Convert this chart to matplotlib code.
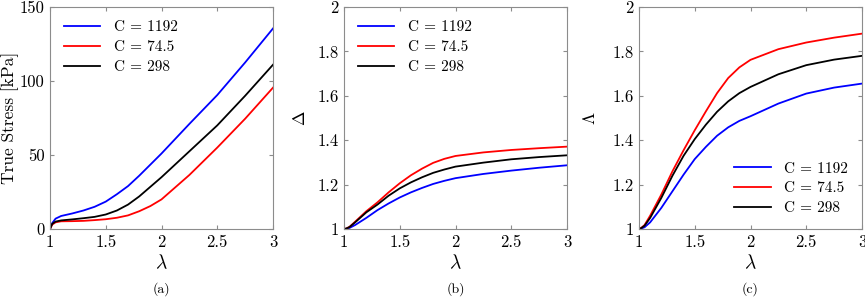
import matplotlib
matplotlib.use("Agg")
import matplotlib.pyplot as plt

plt.rcParams.update({
    "font.family": "serif",
    "font.serif": ["cmr10"],
    "mathtext.fontset": "cm",
    "axes.formatter.use_mathtext": True,
    "font.size": 11,
})

# stretch values
LAM = [1.0, 1.02, 1.05, 1.1, 1.2, 1.3, 1.4, 1.5, 1.6, 1.7, 1.8, 1.9,
       2.0, 2.25, 2.5, 2.75, 3.0]

LABELS = ["C = 1192", "C = 74.5", "C = 298"]
COLORS = ["#0000ff", "#ff0000", "#000000"]

# (a) true stress [kPa]
STRESS_1192 = [0, 4.0, 7.0, 8.8, 10.5, 12.5, 15.0, 18.5, 23.5, 29.0, 36.0,
               43.5, 51.0, 71.0, 90.5, 112.5, 135.5]
STRESS_745 = [0, 3.0, 4.5, 5.2, 5.3, 5.5, 6.0, 6.6, 7.6, 9.2, 12.0,
              15.5, 20.0, 36.5, 55.0, 74.5, 95.5]
STRESS_298 = [0, 3.5, 5.0, 5.8, 6.5, 7.3, 8.2, 9.8, 12.5, 16.5, 22.0,
              28.5, 35.0, 52.5, 70.0, 90.0, 111.0]

# (b) Delta
DELTA_1192 = [1.0, 1.001, 1.005, 1.018, 1.05, 1.085, 1.115, 1.142, 1.165,
              1.185, 1.203, 1.217, 1.229, 1.248, 1.263, 1.276, 1.287]
DELTA_745 = [1.0, 1.002, 1.01, 1.033, 1.08, 1.12, 1.165, 1.206, 1.242,
             1.272, 1.298, 1.316, 1.329, 1.345, 1.356, 1.364, 1.371]
DELTA_298 = [1.0, 1.002, 1.009, 1.03, 1.075, 1.11, 1.15, 1.183, 1.21,
             1.233, 1.253, 1.268, 1.281, 1.299, 1.314, 1.324, 1.332]

# (c) Lambda
LAMBDA_1192 = [1.0, 1.002, 1.008, 1.03, 1.095, 1.17, 1.245, 1.315, 1.37,
               1.42, 1.458, 1.487, 1.508, 1.565, 1.61, 1.637, 1.655]
LAMBDA_745 = [1.0, 1.005, 1.018, 1.06, 1.155, 1.26, 1.355, 1.445, 1.53,
              1.612, 1.68, 1.728, 1.762, 1.81, 1.84, 1.862, 1.88]
LAMBDA_298 = [1.0, 1.004, 1.015, 1.05, 1.14, 1.24, 1.33, 1.405, 1.47,
              1.528, 1.575, 1.612, 1.64, 1.697, 1.738, 1.763, 1.78]

PANELS = [
    ([STRESS_1192, STRESS_745, STRESS_298], "True Stress [kPa]", (0, 150),
     [0, 50, 100, 150], "upper left", "(a)", -0.14),
    ([DELTA_1192, DELTA_745, DELTA_298], r"$\Delta$", (1, 2),
     [1, 1.2, 1.4, 1.6, 1.8, 2], "upper left", "(b)", -0.16),
    ([LAMBDA_1192, LAMBDA_745, LAMBDA_298], r"$\Lambda$", (1, 2),
     [1, 1.2, 1.4, 1.6, 1.8, 2], "lower right", "(c)", -0.185),
]

W, H = 865, 299
EDGE = "#8c8c8c"
fig = plt.figure(figsize=(W / 100, H / 100), dpi=100)
lefts = [50, 344, 639]
for left, (series, ylab, ylim, yt, loc, cap, ylx) in zip(lefts, PANELS):
    ax = fig.add_axes([left / W, 1 - 229 / H, 223 / W, 222 / H])
    for ys, c, lab in zip(series, COLORS, LABELS):
        ax.plot(LAM, ys, color=c, lw=1.3, label=lab)
    ax.set_xlim(1, 3)
    ax.set_ylim(*ylim)
    ax.set_xticks([1, 1.5, 2, 2.5, 3])
    ax.set_xticklabels(["1", "1.5", "2", "2.5", "3"])
    ax.set_yticks(yt)
    ax.set_yticklabels([f"{v:g}" for v in yt])
    ax.tick_params(direction="in", top=True, right=True, length=3,
                   color=EDGE, labelsize=12, pad=4)
    for s in ax.spines.values():
        s.set_color(EDGE)
        s.set_linewidth(0.8)
    ax.set_xlabel(r"$\lambda$", fontsize=14, labelpad=3)
    ax.set_ylabel(ylab, fontsize=12.5)
    ax.yaxis.set_label_coords(ylx, 0.5)
    ax.legend(loc=loc, frameon=False, fontsize=11, handlelength=2.4,
              handletextpad=0.9, labelspacing=0.4, borderaxespad=0.5)
    ax.text(0.5, -0.27, cap, transform=ax.transAxes, ha="center",
            va="center", fontsize=10)

fig.savefig("out.png", dpi=100)
